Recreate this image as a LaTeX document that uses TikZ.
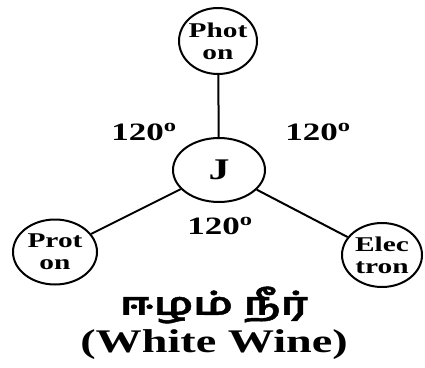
\documentclass[tikz,border=0pt]{standalone}
\usepackage{fontspec}
\setmainfont{Liberation Serif}[FakeStretch=1.4]
\newfontfamily\tamilfont[Script=Tamil,FakeStretch=1.4,FakeBold=1.5]{Hind Madurai}
\usetikzlibrary{shapes.geometric}

\begin{document}
\begin{tikzpicture}[x=1pt,y=-1pt,
font=\bfseries,
particle/.style={ellipse,draw,line width=2pt,minimum width=80pt,minimum height=64pt,inner sep=-2pt,align=center,font=\bfseries\fontsize{21}{22}\selectfont},
bond/.style={line width=2pt},
angle/.style={font=\bfseries\fontsize{25}{25}\selectfont}]
    \useasboundingbox (0,0) rectangle (425,367);

    % particles round the centre
    \node[particle,minimum width=92pt,font=\bfseries\fontsize{30}{30}\selectfont] (J) at (219,170) {J};
    \node[particle,minimum width=78pt,minimum height=66pt] (photon) at (218,41) {Phot\\on};
    \node[particle,minimum width=84pt,minimum height=65pt] (proton) at (55,252) {Prot\\on};
    \node[particle] (electron) at (382,255) {Elec\\tron};

    \draw[bond] (J) -- (photon);
    \draw[bond] (J) -- (proton);
    \draw[bond] (J) -- (electron);

    % angles
    \node[angle] (aleft) at (144,132) {120\textsuperscript{o}};
    \node[angle] (aright) at (318,132) {120\textsuperscript{o}};
    \node[angle] (abottom) at (220,226) {120\textsuperscript{o}};

    % caption
    \node[font=\tamilfont\bfseries\fontsize{31}{31}\selectfont] (tamil) at (214,305) {ஈழம் நீர்};
    \node[font=\bfseries\fontsize{33}{33}\selectfont] (english) at (214,345) {(White Wine)};

\end{tikzpicture}
\end{document}
